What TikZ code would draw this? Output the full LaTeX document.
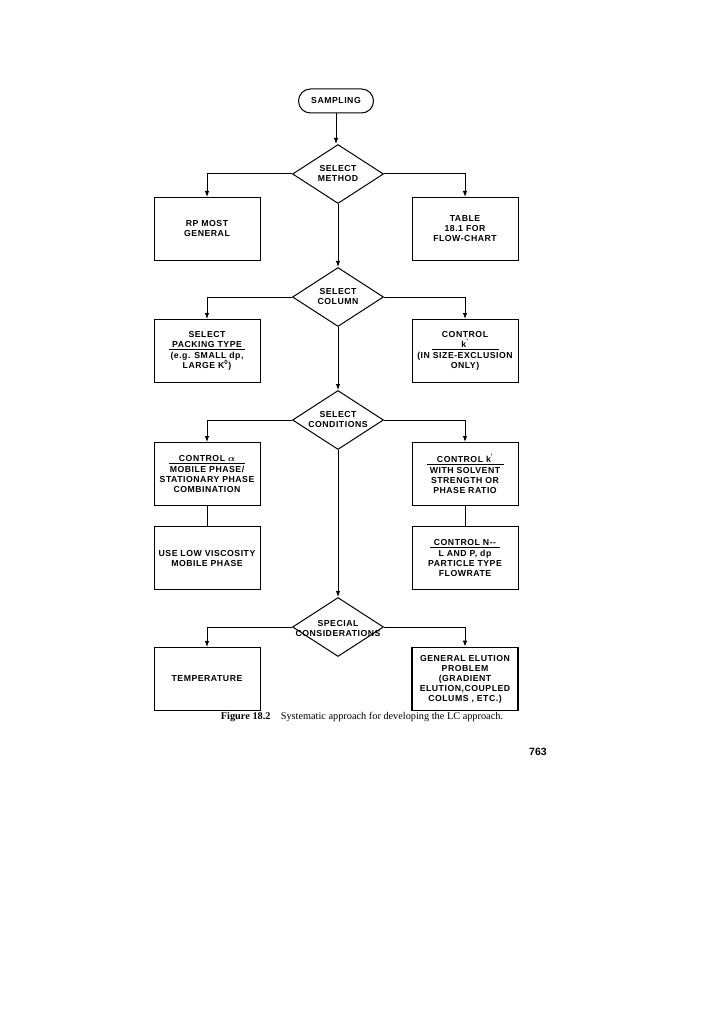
\documentclass[tikz,border=0pt]{standalone}
\usepackage{amsmath}
\usepackage{fontspec}
\setmainfont{Liberation Serif}
\setsansfont{Liberation Sans}
\usepackage{tikz}
\usetikzlibrary{arrows.meta,shapes,positioning}
\tikzstyle{lbl}=[font=\sffamily\bfseries\fontsize{8.7}{10}\selectfont\addfontfeature{LetterSpace=6},align=center]
\tikzstyle{box}=[draw,lbl,line width=1pt,minimum width=106pt,minimum height=63pt,inner sep=1pt]
\tikzstyle{dec}=[draw,diamond,line width=1pt,minimum width=91pt,minimum height=59pt,inner sep=0pt]
\tikzstyle{term}=[draw,lbl,rounded corners=12pt,line width=1pt,minimum width=75pt,minimum height=24pt]
\tikzstyle{line}=[draw,line width=1pt,-{Latex[length=6pt,width=4.5pt]}]
\newcommand{\hd}[2]{\underline{\makebox[#1]{#2}}}
\begin{document}
\begin{tikzpicture}[x=1pt,y=-1pt]
  \fill[white] (0,0) rectangle (723,1024);
  \useasboundingbox (0,0) rectangle (723,1024);
  \node[term] (sampling) at (336,101) {SAMPLING};
  \node[dec,label={[lbl]center:SELECT\\METHOD}] (selMethod) at (338,174) {};
  \node[dec,label={[lbl]center:SELECT\\COLUMN}] (selColumn) at (338,297) {};
  \node[dec,label={[lbl]center:SELECT\\CONDITIONS}] (selCond) at (338,420) {};
  \node[dec,label={[lbl,yshift=-1pt]center:SPECIAL\\CONSIDERATIONS}] (special) at (338,627) {};

  \node[box] (rpMost) at (207,229) {RP MOST\\GENERAL};
  \node[box] (table) at (465,229) {TABLE\\18.1 FOR\\FLOW-CHART};
  \node[box] (packing) at (207,351) {SELECT\\\hd{76pt}{PACKING TYPE}\\[1pt](e.g. SMALL dp,\\LARGE K\textsuperscript{0})};
  \node[box] (ctrlK) at (465,351) {CONTROL\\\hd{67pt}{k\textsuperscript{'}}\\[1pt](IN SIZE-EXCLUSION\\ONLY)};
  \node[box] (ctrlAlpha) at (207,474) {\hd{76pt}{CONTROL $\boldsymbol{\alpha}$}\\[1pt]MOBILE PHASE/\\STATIONARY PHASE\\COMBINATION};
  \node[box] (ctrlKs) at (465,474) {\hd{77pt}{CONTROL k\textsuperscript{'}}\\[1pt]WITH SOLVENT\\STRENGTH OR\\PHASE RATIO};
  \node[box] (lowVisc) at (207,558) {USE LOW VISCOSITY\\MOBILE PHASE};
  \node[box] (ctrlN) at (465,558) {\hd{70pt}{CONTROL N-{}-}\\[1pt]L AND P, dp\\PARTICLE TYPE\\FLOWRATE};
  \node[box] (temp) at (207,679) {TEMPERATURE};
  \node[box,line width=1.6pt] (elution) at (465,679) {GENERAL ELUTION\\PROBLEM\\(GRADIENT\\ELUTION,COUPLED\\COLUMS , ETC.)};

  \draw[line] (sampling) -- (sampling |- selMethod.north);
  \draw[line] (selMethod.west) -| (rpMost.north);
  \draw[line] (selMethod.east) -| (table.north);
  \draw[line] (selMethod) -- (selColumn);
  \draw[line] (selColumn.west) -| (packing.north);
  \draw[line] (selColumn.east) -| (ctrlK.north);
  \draw[line] (selColumn) -- (selCond);
  \draw[line] (selCond.west) -| (ctrlAlpha.north);
  \draw[line] (selCond.east) -| (ctrlKs.north);
  \draw[line width=1pt] (ctrlAlpha) -- (lowVisc);
  \draw[line width=1pt] (ctrlKs) -- (ctrlN);
  \draw[line] (selCond) -- (special);
  \draw[line] (special.west) -| (temp.north);
  \draw[line] (special.east) -| (elution.north);

  \node[font=\fontsize{10.3}{12}\selectfont] (cap) at (362,717) {\textbf{Figure 18.2}\quad Systematic approach for developing the LC approach.};
  \node[font=\sffamily\bfseries\fontsize{10.5}{12}\selectfont] (page) at (538,752) {763};
\end{tikzpicture}
\end{document}
